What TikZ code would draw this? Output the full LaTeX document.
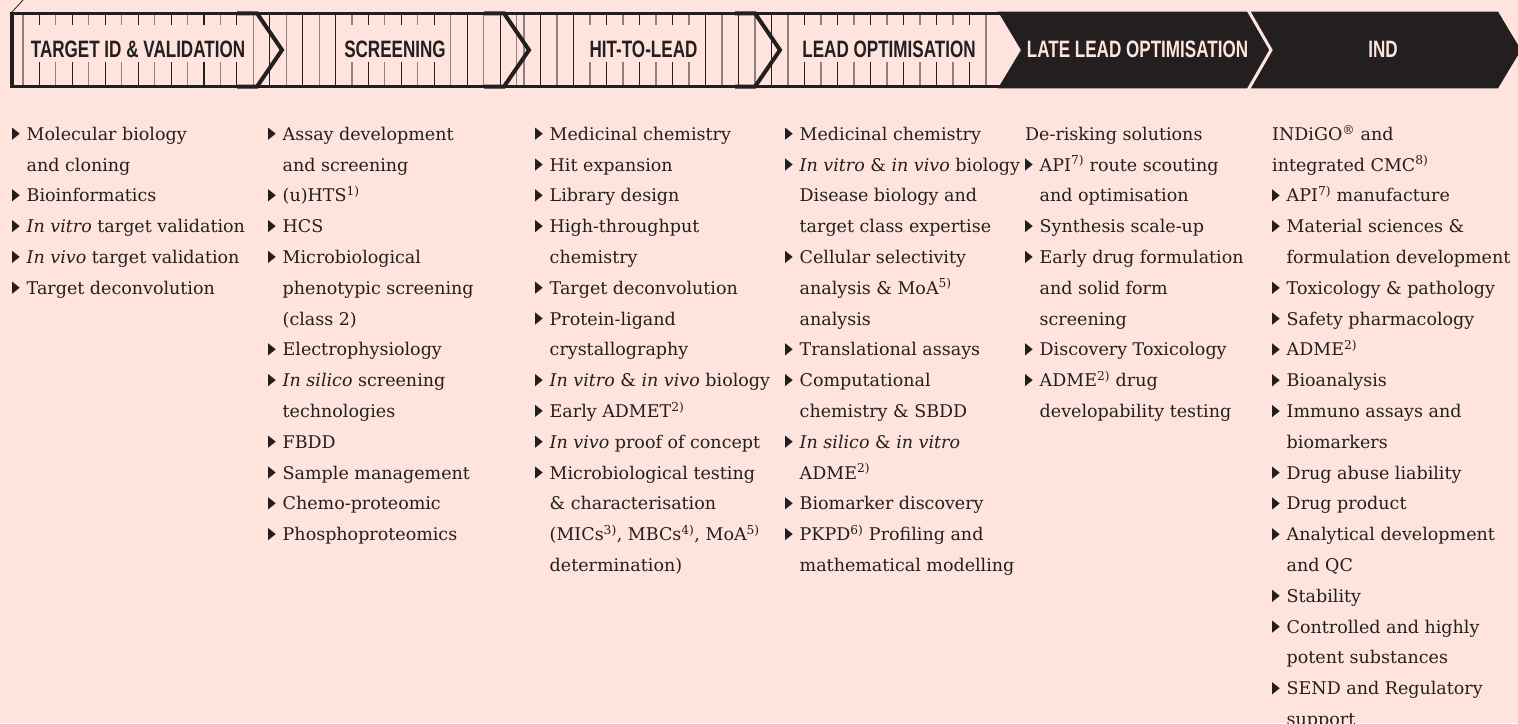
\documentclass[tikz,border=0pt]{standalone}
\usepackage{fontspec}
\setmainfont{DejaVu Serif}
\newfontfamily\headfont[FakeStretch=0.72]{Liberation Sans}
\usepackage{tikz}

\definecolor{ink}{RGB}{35,31,32}
\definecolor{blush}{RGB}{254,228,221}
\definecolor{rulegrey}{RGB}{140,128,128}

\newcommand\bul{\makebox[14.5pt][l]{\raisebox{6.5pt}{\tikz[baseline={(0pt,0pt)}]\fill[ink] (0pt,-6pt)--(0pt,6pt)--(7.5pt,0pt)--cycle;}}}
\newcommand\ind{\hspace*{14.5pt}}
\newcommand\fn[1]{\textsuperscript{#1)}}

\tikzset{
  phase/.style={font=\headfont\bfseries\fontsize{23.7}{24}\selectfont, anchor=base,
    inner xsep=4pt, inner ysep=0pt, text height=32pt, text depth=5pt},
  column/.style={anchor=north west, inner sep=0pt, align=left, text=ink,
    font=\fontsize{17.5}{30.8}\selectfont}
}

\begin{document}
\begin{tikzpicture}[x=1pt,y=1pt,yscale=-1,xscale=1]

    \fill[blush] (0,0) rectangle (1518,723);
    \clip (0,0) rectangle (1518,723);

    % ruler stripes
    \foreach \k in {0,2,...,30} \draw[rulegrey,line width=1.1] ({23+16.45*\k},13) -- ({23+16.45*\k},86);
    \foreach \k in {1,3,...,29} \draw[ink,line width=1.1] ({23+16.45*\k},13) -- ({23+16.45*\k},86);
    \foreach \j in {0,2,...,28} \draw[rulegrey,line width=1.1] ({524+16.5*\j},13) -- ({524+16.5*\j},86);
    \foreach \j in {1,3,...,27} \draw[ink,line width=1.1] ({524+16.5*\j},13) -- ({524+16.5*\j},86);

    \draw[ink,line width=3.3] (12,13.3) -- (1000,13.3);
    \draw[ink,line width=3.3] (12,86.6) -- (1000,86.6);
    \draw[ink,line width=4] (12,11.6) -- (12,88.3);
    \draw[ink,line width=0.8] (12,12) -- (24,-1);
    \foreach \c in {257,504,755}
        \draw[ink,line width=4] (\c-20,13.3) -- (\c,13.3) -- (\c+25,50) -- (\c,86.6) -- (\c-20,86.6);

    \fill[ink] (998,11.6) -- (1498,11.6) -- (1521,50) -- (1498,88.3) -- (998,88.3) -- (1021,50) -- cycle;
    \draw[blush,line width=3] (1248,10) -- (1271,50) -- (1248,90);

    \node[phase,fill=blush,text=ink] (tid) at (138,57) {TARGET ID \& VALIDATION};
    \node[phase,fill=blush,text=ink] (scr) at (395,57) {SCREENING};
    \node[phase,fill=blush,text=ink] (h2l) at (643.5,57) {HIT-TO-LEAD};
    \node[phase,fill=blush,text=ink] (lop) at (889,57) {LEAD OPTIMISATION};
    \node[phase,text=blush] (llo) at (1137.5,57) {LATE LEAD OPTIMISATION};
    \node[phase,text=blush] (ind) at (1383,57) {IND};

    \node[column] (targetlist) at (12,125) {\rule{0pt}{15pt}\bul Molecular biology\\
        \ind and cloning\\
        \bul Bioinformatics\\
        \bul \textit{In vitro} target validation\\
        \bul \textit{In vivo} target validation\\
        \bul Target deconvolution};

    \node[column] (screenlist) at (268,125) {\rule{0pt}{15pt}\bul Assay development\\
        \ind and screening\\
        \bul (u)HTS\fn{1}\\
        \bul HCS\\
        \bul Microbiological\\
        \ind phenotypic screening\\
        \ind (class 2)\\
        \bul Electrophysiology\\
        \bul \textit{In silico} screening\\
        \ind technologies\\
        \bul FBDD\\
        \bul Sample management\\
        \bul Chemo-proteomic\\
        \bul Phosphoproteomics};

    \node[column] (hitlist) at (535,125) {\rule{0pt}{15pt}\bul Medicinal chemistry\\
        \bul Hit expansion\\
        \bul Library design\\
        \bul High-throughput\\
        \ind chemistry\\
        \bul Target deconvolution\\
        \bul Protein-ligand\\
        \ind crystallography\\
        \bul \textit{In vitro} \& \textit{in vivo} biology\\
        \bul Early ADMET\fn{2}\\
        \bul \textit{In vivo} proof of concept\\
        \bul Microbiological testing\\
        \ind \& characterisation\\
        \ind (MICs\fn{3}, MBCs\fn{4}, MoA\fn{5}\\
        \ind determination)};

    \node[column] (leadlist) at (785,125) {\rule{0pt}{15pt}\bul Medicinal chemistry\\
        \bul \textit{In vitro} \& \textit{in vivo} biology\\
        \ind Disease biology and\\
        \ind target class expertise\\
        \bul Cellular selectivity\\
        \ind analysis \& MoA\fn{5}\\
        \ind analysis\\
        \bul Translational assays\\
        \bul Computational\\
        \ind chemistry \& SBDD\\
        \bul \textit{In silico} \& \textit{in vitro}\\
        \ind ADME\fn{2}\\
        \bul Biomarker discovery\\
        \bul PKPD\fn{6} Profiling and\\
        \ind mathematical modelling};

    \node[column] (latelist) at (1025,125) {\rule{0pt}{15pt}De-risking solutions\\
        \bul API\fn{7} route scouting\\
        \ind and optimisation\\
        \bul Synthesis scale-up\\
        \bul Early drug formulation\\
        \ind and solid form\\
        \ind screening\\
        \bul Discovery Toxicology\\
        \bul ADME\fn{2} drug\\
        \ind developability testing};

    \node[column] (indlist) at (1272,125) {\rule{0pt}{15pt}INDiGO\textsuperscript{\textregistered} and\\
        integrated CMC\fn{8}\\
        \bul API\fn{7} manufacture\\
        \bul Material sciences \&\\
        \ind formulation development\\
        \bul Toxicology \& pathology\\
        \bul Safety pharmacology\\
        \bul ADME\fn{2}\\
        \bul Bioanalysis\\
        \bul Immuno assays and\\
        \ind biomarkers\\
        \bul Drug abuse liability\\
        \bul Drug product\\
        \bul Analytical development\\
        \ind and QC\\
        \bul Stability\\
        \bul Controlled and highly\\
        \ind potent substances\\
        \bul SEND and Regulatory\\
        \ind support};

\end{tikzpicture}
\end{document}
